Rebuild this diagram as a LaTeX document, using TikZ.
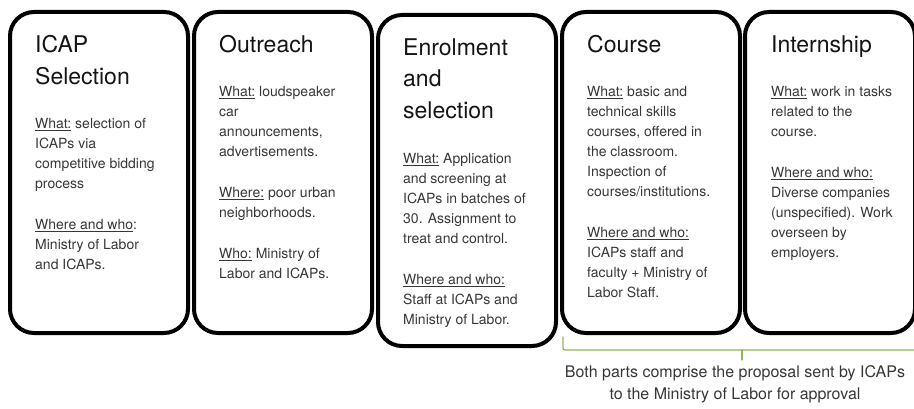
\documentclass[tikz,border=0pt]{standalone}
\usepackage{fontspec}
\setmainfont{TeX Gyre Heros}
\usetikzlibrary{positioning}
\definecolor{headtext}{RGB}{20,20,20}
\definecolor{bodytext}{RGB}{55,55,55}
\definecolor{bracegreen}{RGB}{146,182,86}
\begin{document}
\begin{tikzpicture}[line join = round, line cap = round, x = 1pt, y = -1pt,
	stage/.style = {draw, line width = 4pt, rounded corners = 24pt, minimum width = 178pt, minimum height = 321pt, inner sep = 0pt},
	head/.style = {anchor = north west, inner sep = 0pt, align = left, text = headtext, font = \fontsize{23}{31.5}\selectfont},
	body/.style = {anchor = north west, inner sep = 0pt, align = left, text = bodytext, font = \fontsize{14}{20}\selectfont},
	note/.style = {inner sep = 0pt, align = center, text = bodytext, font = \fontsize{16}{22.5}\selectfont},
	brace/.style = {draw = bracegreen, line width = 1.2pt, rounded corners = 2pt}]
	\clip (0,0) rectangle (914,409);
	%Các khung
	\node[stage] (box1) at (99,172.5) {};
	\node[stage, right = 2pt of box1] (box2) {};
	\node[stage, minimum height = 331pt, right = 2pt of box2, yshift = -8pt] (box3) {};
	\node[stage, right = 2pt of box3, yshift = 8pt] (box4) {};
	\node[stage, minimum width = 170pt, right = 1pt of box4] (box5) {};
	%Tiêu đề
	\node[head, below right = 25.5pt and 27pt of box1.north west] (head1) {ICAP\\Selection};
	\node[head, below right = 25.5pt and 27pt of box2.north west] (head2) {Outreach};
	\node[head, below right = 25.5pt and 27pt of box3.north west] (head3) {Enrolment\\and\\selection};
	\node[head, below right = 25.5pt and 27pt of box4.north west] (head4) {Course};
	\node[head, below right = 25.5pt and 28pt of box5.north west] (head5) {Internship};
	%Nội dung
	\node[body, below right = 108pt and 27pt of box1.north west] (body1) {\underline{What:} selection of\\ICAPs via\\competitive bidding\\process\\[21pt]\underline{Where and who}:\\Ministry of Labor\\and ICAPs.};
	\node[body, below right = 76pt and 27pt of box2.north west] (body2) {\underline{What:} loudspeaker\\car\\announcements,\\advertisements.\\[21pt]\underline{Where:} poor urban\\neighborhoods.\\[21pt]\underline{Who:} Ministry of\\Labor and ICAPs.};
	\node[body, below right = 140pt and 27pt of box3.north west] (body3) {\underline{What:} Application\\and screening at\\ICAPs in batches of\\30. Assignment to\\treat and control.\\[21pt]\underline{Where and who:}\\Staff at ICAPs and\\Ministry of Labor.};
	\node[body, below right = 76pt and 27pt of box4.north west] (body4) {\underline{What:} basic and\\technical skills\\courses, offered in\\the classroom.\\Inspection of\\courses/institutions.\\[21pt]\underline{Where and who:}\\ICAPs staff and\\faculty + Ministry of\\Labor Staff.};
	\node[body, below right = 76pt and 28pt of box5.north west] (body5) {\underline{What:} work in tasks\\related to the\\course.\\[21pt]\underline{Where and who:}\\Diverse companies\\(unspecified). Work\\overseen by\\employers.};
	%Ngoặc dưới hai khung cuối
	\coordinate (bl) at ([shift = {(3pt,-2pt)}]box4.south west);
	\coordinate (bm) at ([yshift = -15pt]box4.south east);
	\coordinate (tip) at ([yshift = -10pt]bm);
	\draw[brace] (bl) |- (bm) -| ([xshift = 360pt]bl);
	\draw[brace] (bm) -- (tip);
	\node[note, below = 5pt of tip, xshift = -7pt] (note) {Both parts comprise the proposal sent by ICAPs\\to the Ministry of Labor for approval};
\end{tikzpicture}
\end{document}
